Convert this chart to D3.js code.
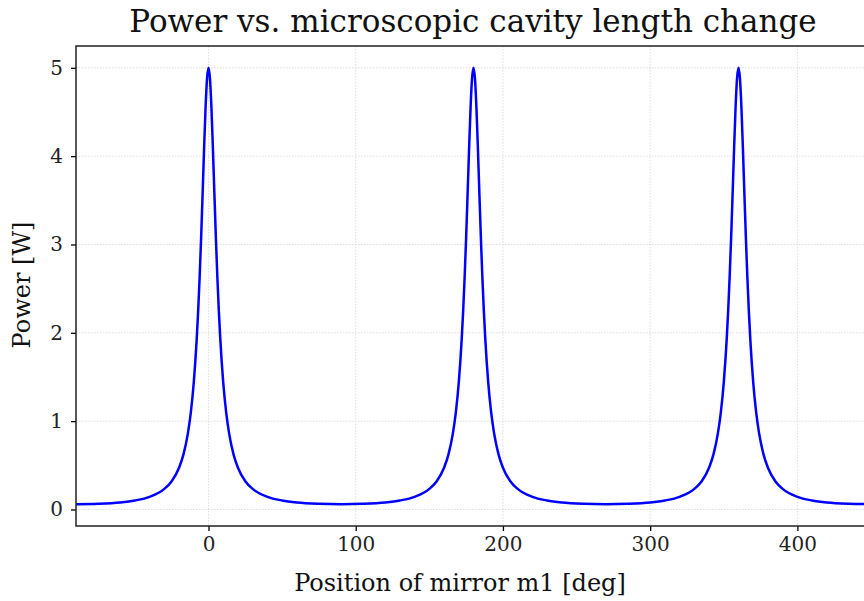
<!DOCTYPE html>
<html>
<head>
<meta charset="utf-8">
<script src="https://cdn.jsdelivr.net/npm/d3@7"></script>
<style>
  body { margin: 0; background: #fff; }
  svg { display: block; font-family: 'DejaVu Serif', serif; }
</style>
</head>
<body>
<div id="chart"></div>
<script>
// Data: mirror position [deg] and circulating power [W]
const mirrorPos = [
  -90, -75, -60, -50, -40, -30, -25, -20, -17, -14, -12, -10, -8, -7, -6, -5, -4, -3, -2, -1,
  0, 1, 2, 3, 4, 5, 6, 7, 8, 10, 12, 14, 17, 20, 25, 30, 40, 50, 60, 75,
  90, 105, 120, 130, 140, 150, 155, 160, 163, 166, 168, 170, 172, 173, 174, 175, 176, 177, 178, 179,
  180, 181, 182, 183, 184, 185, 186, 187, 188, 190, 192, 194, 197, 200, 205, 210, 220, 230, 240, 255,
  270, 285, 300, 310, 320, 330, 335, 340, 343, 346, 348, 350, 352, 353, 354, 355, 356, 357, 358, 359,
  360, 361, 362, 363, 364, 365, 366, 367, 368, 370, 372, 374, 377, 380, 385, 390, 400, 410, 420, 435,
  450
]
const power = [
  0.060, 0.065, 0.080, 0.102, 0.143, 0.233, 0.320, 0.472, 0.624, 0.862, 1.100, 1.440, 1.932, 2.254, 2.637, 3.081, 3.574, 4.083, 4.546, 4.878,
  5.000, 4.878, 4.546, 4.083, 3.574, 3.081, 2.637, 2.254, 1.932, 1.440, 1.100, 0.862, 0.624, 0.472, 0.320, 0.233, 0.143, 0.102, 0.080, 0.065,
  0.060, 0.065, 0.080, 0.102, 0.143, 0.233, 0.320, 0.472, 0.624, 0.862, 1.100, 1.440, 1.932, 2.254, 2.637, 3.081, 3.574, 4.083, 4.546, 4.878,
  5.000, 4.878, 4.546, 4.083, 3.574, 3.081, 2.637, 2.254, 1.932, 1.440, 1.100, 0.862, 0.624, 0.472, 0.320, 0.233, 0.143, 0.102, 0.080, 0.065,
  0.060, 0.065, 0.080, 0.102, 0.143, 0.233, 0.320, 0.472, 0.624, 0.862, 1.100, 1.440, 1.932, 2.254, 2.637, 3.081, 3.574, 4.083, 4.546, 4.878,
  5.000, 4.878, 4.546, 4.083, 3.574, 3.081, 2.637, 2.254, 1.932, 1.440, 1.100, 0.862, 0.624, 0.472, 0.320, 0.233, 0.143, 0.102, 0.080, 0.065,
  0.060
]
const xTicks = [0, 100, 200, 300, 400]
const yTicks = [0, 1, 2, 3, 4, 5]

const titleText = 'Power vs. microscopic cavity length change'
const xLabel = 'Position of mirror m1 [deg]'
const yLabel = 'Power [W]'

const dataset = mirrorPos.map((x, i) => ({ x, y: power[i] }))

// Dimensions
const width = 864
const height = 601
const plot = { left: 76, right: 871, top: 46, bottom: 526 }

const svg = d3
  .select('#chart')
  .append('svg')
  .attr('width', width)
  .attr('height', height)

// Scales
const xScale = d3.scaleLinear().domain([-90, 450]).range([plot.left, plot.right])
const yScale = d3.scaleLinear().domain([-0.187, 5.247]).range([plot.bottom, plot.top])

// Grid
const grid = svg.append('g')
grid
  .selectAll('.gx')
  .data(xTicks)
  .join('line')
  .attr('x1', (d) => xScale(d))
  .attr('x2', (d) => xScale(d))
  .attr('y1', plot.top)
  .attr('y2', plot.bottom)
grid
  .selectAll('.gy')
  .data(yTicks)
  .join('line')
  .attr('class', 'gy')
  .attr('x1', plot.left)
  .attr('x2', plot.right)
  .attr('y1', (d) => yScale(d))
  .attr('y2', (d) => yScale(d))
grid
  .selectAll('line')
  .attr('stroke', '#d6d6d6')
  .attr('stroke-width', 0.8)
  .attr('stroke-dasharray', '1.5,1.5')

// Curve
const clip = svg.append('clipPath').attr('id', 'clip')
clip
  .append('rect')
  .attr('x', plot.left)
  .attr('y', plot.top)
  .attr('width', plot.right - plot.left)
  .attr('height', plot.bottom - plot.top)

const line = d3
  .line()
  .x((d) => xScale(d.x))
  .y((d) => yScale(d.y))
  .curve(d3.curveMonotoneX)

svg
  .append('path')
  .datum(dataset)
  .attr('clip-path', 'url(#clip)')
  .attr('d', line)
  .attr('fill', 'none')
  .attr('stroke', '#0000ff')
  .attr('stroke-width', 2.5)

// Axes
const xAxis = d3.axisBottom(xScale).tickValues(xTicks).tickFormat(d3.format('d')).tickSize(5).tickPadding(6)
const yAxis = d3.axisLeft(yScale).tickValues(yTicks).tickFormat(d3.format('d')).tickSize(5).tickPadding(8)

const gx = svg.append('g').attr('transform', `translate(0,${plot.bottom})`).call(xAxis)
const gy = svg.append('g').attr('transform', `translate(${plot.left},0)`).call(yAxis)

for (const g of [gx, gy]) {
  g.select('.domain').remove()
  g.selectAll('.tick line').attr('stroke', '#000').attr('stroke-width', 1.3)
  g.selectAll('.tick text')
    .attr('fill', '#222')
    .style('font-family', "'DejaVu Serif', serif")
    .style('font-size', '20px')
}

// Spines
svg
  .append('rect')
  .attr('x', plot.left)
  .attr('y', plot.top)
  .attr('width', plot.right - plot.left)
  .attr('height', plot.bottom - plot.top)
  .attr('fill', 'none')
  .attr('stroke', '#222')
  .attr('stroke-width', 1.5)

// Labels
svg
  .append('text')
  .attr('x', 473)
  .attr('y', 32)
  .attr('text-anchor', 'middle')
  .style('font-size', '31px')
  .attr('fill', '#111')
  .text(titleText)

svg
  .append('text')
  .attr('x', 460)
  .attr('y', 591)
  .attr('text-anchor', 'middle')
  .style('font-size', '24px')
  .attr('fill', '#111')
  .text(xLabel)

svg
  .append('text')
  .attr('transform', `translate(30,285) rotate(-90)`)
  .attr('text-anchor', 'middle')
  .style('font-size', '24px')
  .attr('fill', '#111')
  .text(yLabel)
</script>
</body>
</html>
